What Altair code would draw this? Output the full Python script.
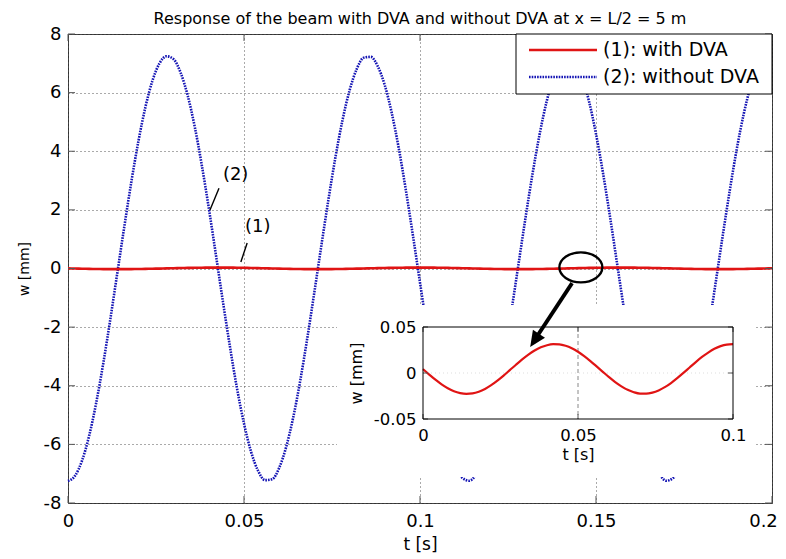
import altair as alt
import pandas as pd

# ---------------- data ----------------
T = [round(0.002 * i, 3) for i in range(101)]  # time samples [s]

W_WITHOUT = [
    -7.25, -7.07, -6.55, -5.71, -4.59, -3.25, -1.75, -0.16, 1.43, 2.96,
    4.34, 5.51, 6.41, 7.00, 7.24, 7.14, 6.68, 5.90, 4.84, 3.53,
    2.06, 0.48, -1.12, -2.66, -4.08, -5.29, -6.25, -6.90, -7.22, -7.19,
    -6.80, -6.08, -5.07, -3.81, -2.36, -0.80, 0.80, 2.36, 3.81, 5.07,
    6.08, 6.80, 7.19, 7.22, 6.90, 6.25, 5.29, 4.08, 2.66, 1.12,
    -0.48, -2.06, -3.53, -4.84, -5.90, -6.68, -7.14, -7.24, -7.00, -6.41,
    -5.51, -4.34, -2.96, -1.43, 0.16, 1.75, 3.25, 4.59, 5.71, 6.55,
    7.07, 7.25, 7.07, 6.55, 5.71, 4.59, 3.25, 1.75, 0.16, -1.43,
    -2.96, -4.34, -5.51, -6.41, -7.00, -7.24, -7.14, -6.68, -5.90, -4.84,
    -3.53, -2.06, -0.48, 1.12, 2.66, 4.08, 5.29, 6.25, 6.90, 7.22, 7.19,
]

W_WITH = [
    0.0042, -0.0017, -0.0073, -0.0123, -0.0165, -0.0198, -0.0218, -0.0226, -0.0221, -0.0203,
    -0.0173, -0.0132, -0.0083, -0.0028, 0.0031, 0.0090, 0.0147, 0.0199, 0.0244, 0.0279,
    0.0302, 0.0313, 0.0311, 0.0296, 0.0269, 0.0231, 0.0184, 0.0130, 0.0072, 0.0013,
    -0.0045, -0.0099, -0.0145, -0.0183, -0.0209, -0.0224, -0.0225, -0.0213, -0.0189, -0.0154,
    -0.0109, -0.0056, 0.0001, 0.0060, 0.0119, 0.0174, 0.0222, 0.0263, 0.0292, 0.0309,
    0.0314, 0.0305, 0.0284, 0.0251, 0.0209, 0.0158, 0.0101, 0.0042, -0.0017, -0.0073,
    -0.0123, -0.0165, -0.0198, -0.0218, -0.0226, -0.0221, -0.0203, -0.0173, -0.0132, -0.0083,
    -0.0028, 0.0031, 0.0090, 0.0147, 0.0199, 0.0244, 0.0279, 0.0302, 0.0313, 0.0311,
    0.0296, 0.0269, 0.0231, 0.0184, 0.0130, 0.0072, 0.0013, -0.0045, -0.0099, -0.0145,
    -0.0183, -0.0209, -0.0224, -0.0225, -0.0213, -0.0189, -0.0154, -0.0109, -0.0056, 0.0001, 0.0060,
]

X_TICKS = [0, 0.05, 0.1, 0.15, 0.2]
Y_TICKS = [-8, -6, -4, -2, 0, 2, 4, 6, 8]
INSET_X_TICKS = [0, 0.05, 0.1]
INSET_Y_TICKS = [-0.05, 0, 0.05]

TITLE = "Response of the beam with DVA and without DVA at x = L/2 = 5 m"
LEGEND_LABELS = ["(1): with DVA", "(2): without DVA"]
ANNOT_LABELS = ["(1)", "(2)"]
ANNOT_TEXT_T = [0.0503, 0.0440]
ANNOT_TEXT_W = [1.41, 3.19]
ANNOT_LINE_T1 = [0.0509, 0.0429]
ANNOT_LINE_W1 = [0.87, 2.74]
ANNOT_LINE_T2 = [0.0491, 0.0403]
ANNOT_LINE_W2 = [0.22, 1.99]
ZOOM_CENTER = (0.1457, 0.04)
ARROW_START = (0.1432, -0.50)
ARROW_SHAFT_END = (0.1331, -2.34)
ARROW_TIP = (0.1313, -2.68)

# ---------------- layout / style ----------------
W, H = 704, 469
FONT = "DejaVu Sans"
BLUE = "#1414b4"
RED = "#e01414"
IX0, IX1, IY0, IY1 = 355, 665, 293, 385  # inset plot rectangle (px inside main plot)

df = pd.DataFrame({"t": T, "without": W_WITHOUT, "with": W_WITH})

xs = alt.Scale(domain=[0, 0.2], nice=False, zero=False)
ys = alt.Scale(domain=[-8, 8], nice=False, zero=False)

lab = "'' + datum.value"
x_axis = alt.Axis(values=X_TICKS, labelExpr=lab, ticks=False, domain=False,
                  grid=True, gridDash=[1, 3], gridColor="#555", gridWidth=1,
                  labelFont=FONT, labelFontSize=18, labelColor="black", labelPadding=9,
                  labelFlush=False,
                  labelOffset={"condition": {"test": "datum.value >= 0.2", "value": -9},
                               "value": 0},
                  title="t [s]", titleFont=FONT, titleFontSize=17, titleFontWeight="normal",
                  titleColor="black", titlePadding=6)
y_axis = alt.Axis(values=Y_TICKS, labelExpr=lab, ticks=False, domain=False,
                  grid=True, gridDash=[1, 3], gridColor="#555", gridWidth=1,
                  labelFont=FONT, labelFontSize=18, labelColor="black", labelPadding=7,
                  labelFlush=False,
                  title="w [mm]", titleFont=FONT, titleFontSize=14, titleFontWeight="normal",
                  titleColor="black", titlePadding=12)

X = lambda f: alt.X(f, type="quantitative", scale=xs, axis=x_axis)
Y = lambda f: alt.Y(f, type="quantitative", scale=ys, axis=y_axis)

blue_line = alt.Chart(df).mark_line(color=BLUE, strokeWidth=2.6, strokeDash=[1.6, 1.1],
                                    interpolate="monotone").encode(x=X("t"), y=Y("without"))
red_line = alt.Chart(df).mark_line(color=RED, strokeWidth=2.6,
                                   interpolate="monotone").encode(x=X("t"), y=Y("with"))

ann_df = pd.DataFrame({"label": ANNOT_LABELS, "tt": ANNOT_TEXT_T, "tw": ANNOT_TEXT_W,
                       "t1": ANNOT_LINE_T1, "w1": ANNOT_LINE_W1,
                       "t2": ANNOT_LINE_T2, "w2": ANNOT_LINE_W2})
ann_lines = alt.Chart(ann_df).mark_rule(color="black", strokeWidth=1.4).encode(
    x=X("t1"), y=Y("w1"), x2="t2", y2="w2")
ann_text = alt.Chart(ann_df).mark_text(align="left", baseline="middle", font=FONT,
                                       fontSize=18, color="black").encode(
    x=X("tt"), y=Y("tw"), text="label:N")

xt = pd.DataFrame({"v": X_TICKS})
yt = pd.DataFrame({"v": Y_TICKS})
tick_style = dict(color="#555", strokeWidth=1)
ticks_main = alt.layer(
    alt.Chart(yt).mark_rule(**tick_style).encode(y=Y("v"), x=alt.value(0), x2=alt.value(7)),
    alt.Chart(yt).mark_rule(**tick_style).encode(y=Y("v"), x=alt.value(W), x2=alt.value(W - 7)),
    alt.Chart(xt).mark_rule(**tick_style).encode(x=X("v"), y=alt.value(0), y2=alt.value(7)),
    alt.Chart(xt).mark_rule(**tick_style).encode(x=X("v"), y=alt.value(H), y2=alt.value(H - 7)),
)

main = alt.layer(blue_line, red_line, ann_lines, ann_text, ticks_main)

# ---------------- inset ----------------
xi = alt.Scale(domain=[0, 0.1], range=[IX0, IX1], nice=False, zero=False)
yi = alt.Scale(domain=[-0.05, 0.05], range=[IY1, IY0], nice=False, zero=False)
xi_axis = alt.Axis(values=INSET_X_TICKS, labelExpr=lab, orient="bottom", offset=-(H - IY1),
                   ticks=False, domain=False, grid=False, zindex=1,
                   labelFont=FONT, labelFontSize=16.5, labelColor="black", labelPadding=8,
                   labelFlush=False,
                   title="t [s]", titleFont=FONT, titleFontSize=16, titleFontWeight="normal",
                   titleColor="black", titlePadding=3)
yi_axis = alt.Axis(values=INSET_Y_TICKS, labelExpr=lab, orient="left", offset=-IX0,
                   ticks=False, domain=False, grid=False, zindex=1,
                   labelFont=FONT, labelFontSize=16.5, labelColor="black", labelPadding=7,
                   labelFlush=False,
                   title="w [mm]", titleFont=FONT, titleFontSize=16, titleFontWeight="normal",
                   titleColor="black", titlePadding=9)
XI = lambda f: alt.X(f, type="quantitative", scale=xi, axis=xi_axis)
YI = lambda f: alt.Y(f, type="quantitative", scale=yi, axis=yi_axis)

one = pd.DataFrame({"k": [0]})
inset_bg = alt.Chart(one).mark_rect(color="white").encode(
    x=alt.value(269), x2=alt.value(687), y=alt.value(271), y2=alt.value(443))
ixt = pd.DataFrame({"v": INSET_X_TICKS})
iyt = pd.DataFrame({"v": INSET_Y_TICKS})
inset_vgrid = alt.Chart(ixt).transform_filter("datum.v > 0 && datum.v < 0.1").mark_rule(
    color="#888", strokeDash=[4, 3], strokeWidth=1).encode(
    x=XI("v"), y=alt.value(IY0), y2=alt.value(IY1))
inset_hgrid = alt.Chart(iyt).transform_filter("datum.v == 0").mark_rule(
    color="#ddd", strokeDash=[1, 3], strokeWidth=1).encode(
    y=YI("v"), x=alt.value(IX0), x2=alt.value(IX1))
inset_red = alt.Chart(df).transform_filter("datum.t <= 0.1").mark_line(
    color=RED, strokeWidth=2.2, interpolate="monotone").encode(x=XI("t"), y=YI("with"))
inset_frame = alt.Chart(one).mark_rect(fillOpacity=0, stroke="black", strokeWidth=1).encode(
    x=alt.value(IX0), x2=alt.value(IX1), y=alt.value(IY0), y2=alt.value(IY1))
inset_ticks = alt.layer(
    alt.Chart(iyt).mark_rule(color="#555").encode(y=YI("v"), x=alt.value(IX0), x2=alt.value(IX0 + 5)),
    alt.Chart(iyt).mark_rule(color="#555").encode(y=YI("v"), x=alt.value(IX1), x2=alt.value(IX1 - 5)),
    alt.Chart(ixt).mark_rule(color="#555").encode(x=XI("v"), y=alt.value(IY1), y2=alt.value(IY1 - 5)),
    alt.Chart(ixt).mark_rule(color="#555").encode(x=XI("v"), y=alt.value(IY0), y2=alt.value(IY0 + 5)),
)
inset = alt.layer(inset_bg, inset_vgrid, inset_hgrid, inset_red, inset_ticks, inset_frame)

# ---------------- overlay: zoom ellipse, arrow, legend ----------------
xo = alt.Scale(domain=[0, 0.2], nice=False, zero=False)
yo = alt.Scale(domain=[-8, 8], nice=False, zero=False)
XO = lambda f: alt.X(f, type="quantitative", scale=xo, axis=None)
YO = lambda f: alt.Y(f, type="quantitative", scale=yo, axis=None)

ell_df = pd.DataFrame({"t": [ZOOM_CENTER[0]], "w": [ZOOM_CENTER[1]]})
ellipse = alt.Chart(ell_df).mark_point(
    shape="M-1,0A1,0.7,0,1,0,1,0A1,0.7,0,1,0,-1,0Z", size=1849, filled=False,
    stroke="black", strokeWidth=2.3, opacity=1).encode(x=XO("t"), y=YO("w"))
arrow_df = pd.DataFrame({"t1": [ARROW_START[0]], "w1": [ARROW_START[1]],
                         "t2": [ARROW_SHAFT_END[0]], "w2": [ARROW_SHAFT_END[1]],
                         "tt": [ARROW_TIP[0]], "tw": [ARROW_TIP[1]]})
arrow_shaft = alt.Chart(arrow_df).mark_rule(color="black", strokeWidth=3.8).encode(
    x=XO("t1"), y=YO("w1"), x2="t2", y2="w2")
arrow_head = alt.Chart(arrow_df).mark_point(
    shape="M0,0L-0.9,2L0.9,2Z", size=256, filled=True, color="black", opacity=1,
    angle=213.3).encode(x=XO("tt"), y=YO("tw"))

leg_box = alt.Chart(one).mark_rect(color="white", stroke="black", strokeWidth=1).encode(
    x=alt.value(448), x2=alt.value(W), y=alt.value(0), y2=alt.value(60))
leg_red = alt.Chart(one).mark_rule(color=RED, strokeWidth=2.6).encode(
    x=alt.value(461), x2=alt.value(529), y=alt.value(16))
leg_blue = alt.Chart(one).mark_rule(color=BLUE, strokeWidth=2.6, strokeDash=[1.6, 1.1]).encode(
    x=alt.value(461), x2=alt.value(529), y=alt.value(43))
leg_t1 = alt.Chart(one).mark_text(align="left", baseline="middle", font=FONT, fontSize=19,
                                  color="black", text=LEGEND_LABELS[0]).encode(
    x=alt.value(535), y=alt.value(16))
leg_t2 = alt.Chart(one).mark_text(align="left", baseline="middle", font=FONT, fontSize=19,
                                  color="black", text=LEGEND_LABELS[1]).encode(
    x=alt.value(535), y=alt.value(43))

overlay = alt.layer(ellipse, arrow_shaft, arrow_head, leg_box, leg_red, leg_blue, leg_t1, leg_t2)

chart = alt.layer(main, inset, overlay).resolve_scale(
    x="independent", y="independent"
).properties(
    width=W, height=H,
    title=alt.Title(TITLE, font=FONT, fontSize=16, fontWeight="normal", color="black",
                    anchor="middle", offset=-2),
    autosize=alt.AutoSizeParams(type="none"),
    padding={"left": 60, "top": 26, "right": 6, "bottom": 50},
).configure_view(stroke="#333", strokeWidth=1)

chart.save("out.html", embed_options={"renderer": "svg", "actions": False})
